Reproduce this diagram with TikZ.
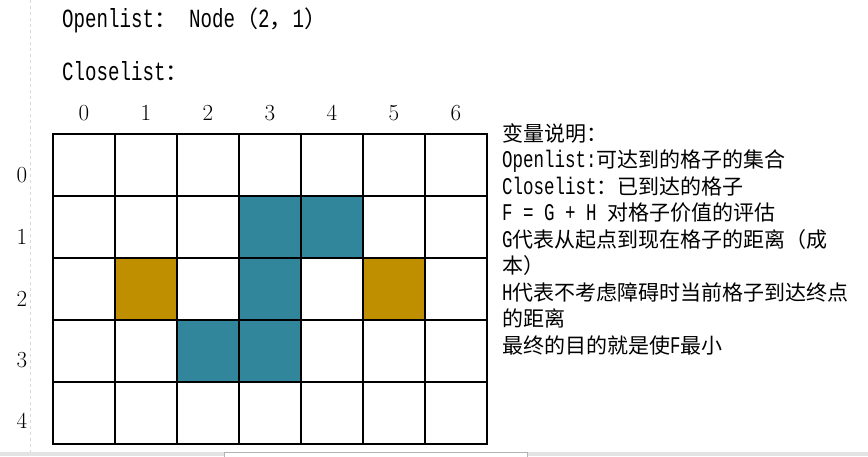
\documentclass[tikz,border=0pt]{standalone}
\usepackage{fontspec}
\newfontfamily\cjk{Noto Sans CJK SC}
\newfontfamily\mf[FakeStretch=0.73,Scale=1.14]{Liberation Mono}
\newcommand\zh[1]{{\cjk #1}}
\newcommand\lat[1]{{\mf #1}}
\definecolor{teal}{HTML}{31869B}
\definecolor{gold}{HTML}{BF8F00}
\definecolor{dashgray}{HTML}{D9D9D9}
\definecolor{bargray}{HTML}{E3E3E3}
\begin{document}
\begin{tikzpicture}[x=1pt,y=-1pt,
  cell/.style={draw=black,line width=1.6pt,minimum size=62pt,inner sep=0pt,outer sep=0pt},
  txt/.style={anchor=base west,inner sep=0pt,font=\fontsize{21}{26}\selectfont},
  head/.style={anchor=base west,inner sep=0pt,font=\fontsize{23}{28}\selectfont},
  num/.style={anchor=base,inner sep=0pt,font=\fontsize{23}{28}\selectfont}]
\useasboundingbox (0,0) rectangle (868,456);
\fill[white] (0,0) rectangle (868,456);
% side dashed rule and bottom bar
\coordinate (dtop) at (30,0);
\coordinate (dbot) at (30,452);
\draw[dashgray,line width=0.8pt,dash pattern=on 3pt off 3pt] (dtop) -- (dbot);
\fill[bargray] (0,452) rectangle (868,456);
\draw[fill=white,draw=gray!60,line width=0.6pt] (224,452.5) rectangle (527,457);
% grid
\foreach \i in {0,...,6}{
  \foreach \j in {0,...,4}{
    \node[cell] (c\i\j) at ({84+62*\i},{165+62*\j}) {};
  }
}
\foreach \p in {31,41,32,23,33}{
  \node[cell,fill=teal] at (c\p) {};
}
\foreach \p in {12,52}{
  \node[cell,fill=gold] at (c\p) {};
}
% column labels
\foreach \i in {0,...,6}{
  \node[num] (col\i) at ({84+62*\i},120) {\i};
}
% row labels
\foreach \j/\b in {0/182,1/244,2/306,3/367,4/428}{
  \node[num] (row\j) at (22,\b) {\j};
}
% header texts
\node[head] (open) at (62,27) {\lat{Openlist}\zh{：}\hspace{12pt}\lat{Node}\zh{（}\lat{2}\zh{，}\lat{1}\zh{）}};
\node[head] (close) at (62,80) {\lat{Closelist}\zh{：}};
% explanation
\node[txt] (t1) at (502,141) {\zh{变量说明：}};
\node[txt] (t2) at (502,167) {\lat{Openlist:}\zh{可达到的格子的集合}};
\node[txt] (t3) at (502,194) {\lat{Closelist}\zh{：已到达的格子}};
\node[txt] (t4) at (502,220) {\lat{F = G + H }\zh{对格子价值的评估}};
\node[txt] (t5) at (502,247) {\lat{G}\zh{代表从起点到现在格子的距离（成}};
\node[txt] (t6) at (502,273) {\zh{本）}};
\node[txt] (t7) at (502,300) {\lat{H}\zh{代表不考虑障碍时当前格子到达终点}};
\node[txt] (t8) at (502,326) {\zh{的距离}};
\node[txt] (t9) at (502,353) {\zh{最终的目的就是使}\lat{F}\zh{最小}};
\end{tikzpicture}
\end{document}
